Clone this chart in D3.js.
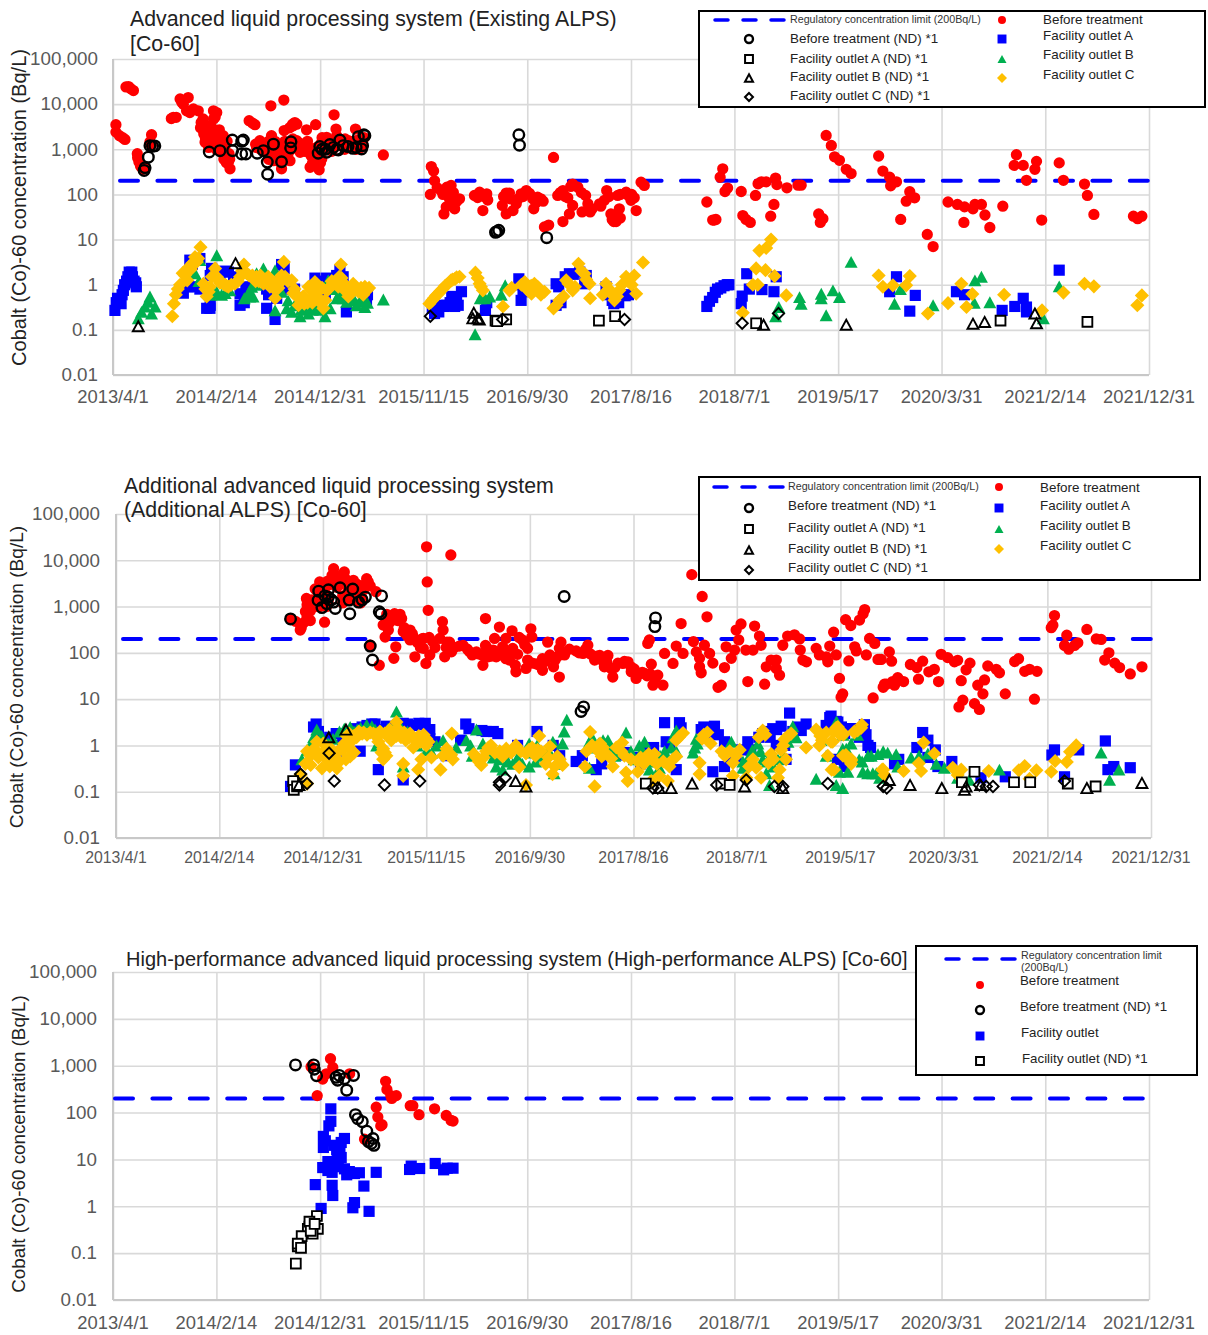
<!DOCTYPE html>
<html><head><meta charset="utf-8">
<script src="https://cdn.jsdelivr.net/npm/d3@7/dist/d3.min.js"></script>
<style>html,body{margin:0;padding:0;background:#fff}svg{display:block}text{font-family:"Liberation Sans",Arial,sans-serif}</style>
</head><body><svg id="c" width="1208" height="1335"></svg>
<script>
// Days since 2013/4/1 for each labelled tick
const tickDays=[0,319,639,958,1278,1598,1917,2237,2556,2876,3196];
const tickLabels=["2013/4/1","2014/2/14","2014/12/31","2015/11/15","2016/9/30","2017/8/16","2018/7/1","2019/5/17","2020/3/31","2021/2/14","2021/12/31"];
const yTicks=[0.01,0.1,1,10,100,1000,10000,100000];
const yTickLabels=["0.01","0.1","1","10","100","1,000","10,000","100,000"];
const limitValue=200;

// ---- Existing ALPS: [day, Bq/L]
const existingBefore=[[9,3500],[9,2400],[20,2000],[30,1800],[37,1650],[40,24000],[48,24500],[55,22000],[63,20000],[75,800],[76,650],[80,520],[85,420],[92,360],[97,400],[119,2100],[114,1450],[118,1250],
[186,5100],[195,5100],[180,4800],[207,13000],[232,14000],[217,10000],[212,11000],[227,7100],[237,6500],[248,7800],[263,7100],[272,3900],[278,4700],[310,7100],[315,5100],[320,6500],[310,4700],[285,2000],[270,3000],[280,2200],[285,1800],[290,1400],[300,2000],[295,1100],
[289,2000],[310,2370],[325,2180],[335,1550],[299,1310],[284,1430],[315,1200],[335,930],[346,725],[356,520],[361,370],[320,1690],[346,1200],
[300,1700],[305,1300],[312,1500],[318,1000],[325,1400],[330,1000],[340,1250],[345,900],[352,1500],[358,800],[340,2000],[328,2700],[300,2700],[292,3300],[305,3000],[360,600],[350,500],[342,600],
[487,9200],[527,12300],[420,4300],[438,3500],[430,3800],[528,2600],[561,3900],[554,3600],[597,2700],[625,3500],[682,5800],[688,2800],[748,2800],[834,750],
[453,1550],[443,1100],[489,2000],[505,1310],[484,790],[495,560],[520,370],[546,560],[525,930],[567,1550],[577,1100],[597,1310],[608,790],[577,860],[618,560],[608,400],[636,350],[628,1100],[644,610],[659,1840],[680,1550],[690,2000],[716,1690],[726,1550],[556,3300],[567,3600],[545,3000],[470,900],[500,700],[535,1200],[560,1300],[590,900],[650,1500],[670,1200],[700,1300],[735,1200],[760,1300],[765,1100],[470,1300],[515,1000],[540,800],
[440,1300],[455,1000],[462,1200],[475,1100],[480,1500],[490,900],[500,1500],[510,1100],[520,800],[530,1500],[540,1300],[550,1000],[555,1700],[565,1200],[572,1400],[585,1300],[590,1100],[600,1500],[605,1100],[612,700],[622,900],[630,800],[640,1300],[645,1800],[655,1100],[665,1400],[675,900],[685,1200],[695,1700],[705,1400],[715,1000],[725,1300],[740,1500],[750,1000],[755,1600],[770,1300],[775,1800],[640,500],[625,450],[615,480],[530,600],[510,550],[480,600],
[982,415],[989,330],[992,200],[979,100],[1012,122],[1043,158],[1023,112],[1038,80],[1069,80],[1054,48],[1021,37],[1028,53],[1115,95],[1131,112],[1153,103],[1141,44],[1156,75],[1213,107],[1223,107],[1201,57],[1213,37],[1234,44],[1259,103],[1275,122],[1244,62],[1295,80],[1298,48],[1310,87],[1327,71],[1359,660],[1344,21],[1331,19],[1372,95],[1388,122],[1403,84],[1418,170],[1434,145],[1458,95],[1465,62],[1418,57],[1408,37],[1388,25],[1447,41],[1472,41],[1501,62],[1516,74],[1523,122],[1557,95],[1583,112],[1608,84],[1598,74],[1614,44],[1629,187],[1639,158],[1562,48],[1536,37],[1540,28],[1552,25],[1565,30],[1545,25],[1555,33],
[1000,140],[1018,100],[1030,145],[1050,110],[1060,70],[1040,60],[1125,85],[1145,90],[1205,90],[1225,80],[1250,80],[1265,90],[1285,105],[1305,65],[1320,80],[1380,110],[1395,90],[1412,150],[1445,110],[1478,48],[1505,55],[1530,90],[1565,100],[1590,95],[1600,100],
[1832,68],[1850,27],[1855,27],[1860,28],[1881,370],[1873,240],[1896,138],[1888,116],[1938,116],[1943,34],[1953,28],[1966,24],[1982,95],[1990,172],[2000,190],[2015,190],[2044,230],[2048,165],[2079,140],[2113,160],[2123,160],[2039,60],[2029,33],[2177,37],[2190,29],[2182,24],[2200,2030],[2216,1220],[2226,680],[2241,570],[2262,360],[2277,290],[2362,710],[2375,330],[2396,240],[2417,190],[2399,155],[2458,115],[2473,84],[2447,71],[2430,28],[2512,13],[2530,7],[2576,68],[2605,60],[2627,53],[2653,48],[2659,60],[2679,60],[2690,35],[2625,24],[2705,18.5],[2745,55],[2865,27],[2787,760],[2780,440],[2808,440],[2849,540],[2844,360],[2818,205],[2919,500],[2932,205],[2997,170],[3006,95],[3026,36],[3148,33],[3161,29],[3174,33]];
const existingBeforeND=[[96,340],[99,390],[109,670],[114,1200],[122,1170],[129,1190],[297,870],[330,930],[368,1600],[402,1600],[397,1500],[369,930],[397,790],[410,790],[445,820],[464,930],[495,1300],[476,520],[477,280],[520,530],[549,1470],[548,1070],[633,820],[638,1150],[659,860],[669,1270],[700,1600],[695,970],[725,1150],[740,1050],[767,1020],[757,1900],[774,2100],[777,2000],[655,1000],[680,1100],[710,1200],[645,1000],[690,1000],[750,1100],[770,1200],[1252,2100],[1254,1230],[1184,15],[1180,14.5],[1190,16],[1338,11]];
const existingA=[[6,0.27],[10,0.4],[14,0.5],[20,0.43],[25,0.38],[28,0.6],[32,0.75],[36,1.0],[42,1.2],[46,1.5],[50,1.9],[58,1.9],[60,1.5],[65,1.2],[70,1.1],[72,0.9],[237,3.5],[268,3.8],[217,0.65],[232,0.9],[268,0.8],[289,0.3],[299,0.3],[304,2.3],[356,1.9],[392,0.35],[392,0.63],[410,0.9],[474,0.3],[500,0.17],[505,0.5],[528,2.3],[474,0.8],[623,1.4],[659,1.4],[700,2.1],[720,0.25],[782,0.42],[640,1.2],[680,1.3],
[245,2.8],[300,1.6],[300,0.35],[330,1.5],[345,2],[372,1.5],[405,0.4],[410,0.55],[480,0.6],[520,2.8],[535,0.8],[560,0.8],[640,0.9],[655,0.6],[690,1.6],[710,1.5],[725,0.8],[775,0.5],[785,0.6],[250,0.9],
[992,0.23],[1000,0.3],[1010,0.35],[1020,0.33],[1030,0.35],[1045,0.55],[1054,0.33],[1065,0.35],[1075,0.7],[985,0.3],[1005,0.25],[1040,0.4],[1060,0.45],[1149,0.27],[1153,0.4],[1252,1.35],[1259,0.45],[1255,1],[1265,0.7],[1367,1.05],[1367,0.35],[1382,0.4],[1375,0.9],[1395,1.5],[1420,1.7],[1440,1.9],[1408,1.75],[1460,1.6],[1455,1.05],[1521,0.9],[1530,0.6],[1560,0.4],[1590,0.6],[1540,0.45],[1545,0.38],[1580,0.57],
[1832,0.33],[1840,0.43],[1850,0.52],[1858,0.68],[1865,0.8],[1875,0.85],[1885,0.95],[1895,1.0],[1900,1.0],[1955,1.75],[1938,0.38],[1941,0.56],[1963,0.8],[2002,0.78],[2039,0.7],[2046,1.5],[2417,1.5],[2396,0.7],[2475,0.58],[2458,0.26],[2602,0.7],[2627,0.6],[2743,0.27],[2782,0.33],[2808,0.5],[2818,0.32],[2818,0.25],[2919,2.1]];
const existingB=[[78,0.18],[88,0.25],[99,0.33],[109,0.42],[114,0.55],[130,0.33],[119,0.23],[253,1.8],[268,3.5],[320,4.5],[320,0.7],[346,0.65],[422,0.55],[428,0.9],[443,1.8],[464,2.3],[500,2.1],[500,0.27],[536,0.3],[551,0.25],[577,0.2],[603,0.23],[628,0.33],[654,0.2],[664,1.25],[690,0.5],[721,0.42],[751,0.35],[777,0.32],[834,0.47],[590,0.3],[615,0.28],
[265,1.2],[300,0.6],[310,0.65],[335,0.6],[360,0.75],[405,0.5],[420,0.7],[432,0.55],[440,1],[455,1.4],[480,1.5],[510,1.5],[520,0.7],[540,0.45],[560,0.35],[580,0.28],[595,0.35],[610,0.3],[640,0.28],[670,0.3],[680,0.8],[700,0.65],[710,0.5],[730,0.5],[745,0.45],[760,0.42],[770,0.5],[785,0.4],
[1133,0.5],[1162,0.55],[1148,0.5],[1210,0.97],[1198,0.6],[1117,0.08],
[2429,0.8],[2411,0.38],[2530,0.35],[2277,3.2],[2185,0.63],[2185,0.5],[2200,0.21],[2221,0.75],[2241,0.53],[2118,0.53],[2123,0.38],[2054,0.32],[2044,0.2],[2659,1.25],[2679,1.5],[2657,0.4],[2705,0.41],[2919,0.92],[2870,0.18]];
const existingC=[[183,0.2],[188,0.38],[194,0.6],[207,1],[215,1.8],[229,1.25],[235,2.5],[253,4.1],[270,6.8],[263,3.8],[279,1.05],[289,0.55],[299,0.9],[315,2.3],[320,1.5],[340,1.05],[356,0.9],[376,1.05],[392,1.5],[404,2.8],[412,1.8],[443,1.5],[464,1.05],[479,1.5],[500,0.5],[484,0.9],[505,1.15],[527,3.2],[531,1.5],[551,1.25],[556,0.65],[572,0.35],[587,0.55],[603,0.9],[623,1.15],[618,0.55],[649,0.3],[659,0.75],[680,1.05],[703,2.8],[698,1.5],[720,0.9],[726,0.55],[741,1.05],[757,0.7],[777,0.9],[782,0.75],[450,1.2],[490,1.2],[515,1.1],[565,0.6],[580,0.45],[600,0.4],[635,0.5],[645,0.85],[670,0.9],[690,1.2],[710,1.1],
[200,0.8],[222,1.6],[240,2.2],[245,3],[258,3.2],[285,0.8],[295,0.7],[305,1.5],[325,1.3],[330,1.1],[345,1],[350,0.95],[365,1],[385,1.2],[398,2],[420,1.6],[430,1.6],[440,1.2],[455,1.6],[472,1.3],[495,0.85],[510,0.85],[520,1.6],[540,1.2],[560,0.8],[570,0.55],[578,0.45],[590,0.38],[610,0.75],[615,0.4],[630,0.75],[640,0.4],[655,0.45],[665,0.8],[675,1.2],[695,0.9],[705,1.4],[715,0.75],[735,0.65],[750,0.85],[765,0.85],[772,0.6],[790,0.85],
[976,0.38],[997,0.58],[1018,0.82],[1043,1.25],[1069,1.5],[985,0.45],[1005,0.65],[1030,1],[1055,1.35],[990,0.5],[1010,0.72],[1025,0.95],[1048,1.3],[1060,1.45],[1118,1.85],[1125,1.4],[1135,0.9],[1131,1.05],[1141,0.75],[1203,0.33],[1223,0.75],[1230,0.85],[1260,1],[1270,1.15],[1280,0.75],[1290,0.95],[1291,0.63],[1300,1.05],[1310,0.9],[1320,0.6],[1331,0.7],[1359,0.3],[1368,0.35],[1377,0.45],[1390,0.55],[1398,1.25],[1405,1.05],[1418,0.75],[1425,0.9],[1436,2.9],[1445,2],[1455,1.75],[1460,1.3],[1470,1.05],[1472,0.5],[1521,1.05],[1511,0.6],[1530,0.8],[1540,0.6],[1547,0.45],[1555,0.55],[1562,0.75],[1570,1],[1583,1.5],[1590,1.2],[1600,1],[1608,1.6],[1614,0.63],[1635,3.1],
[1943,0.24],[1984,2.3],[2013,2.1],[2041,1.55],[1974,1],[1989,1],[2077,0.58],[2030,10],[2015,6.5],[1994,5.7],[2362,1.6],[2375,0.9],[2406,0.97],[2458,1.55],[2447,0.97],[2576,0.39],[2514,0.23],[2617,1.05],[2651,0.62],[2633,0.32],[2749,0.6],[2866,0.27],[2932,0.67],[2997,1.05],[3026,0.92],[3174,0.58],[3160,0.35]];
const existingAND=[[1180,0.16],[1213,0.17],[1185,0.155],[1499,0.16],[1549,0.2],[1984,0.14],[2738,0.16],[3006,0.15]];
const existingBND=[[78,0.12],[378,3.0],[1113,0.24],[1110,0.18],[1125,0.18],[1130,0.17],[2007,0.13],[2262,0.13],[2653,0.137],[2689,0.15],[2844,0.23],[2849,0.14]];
const existingCND=[[979,0.2],[1202,0.17],[1578,0.17],[1941,0.14],[2053,0.23]];

// ---- Additional ALPS: [day, Bq/L]
const additionalBefore=[[539,550],[554,480],[569,310],[585,780],[588,1500],[600,500],[629,3400],[615,2400],[672,6600],[667,4700],[705,5600],[708,4000],[733,3700],[738,3200],[774,4000],[779,3400],[759,2800],[803,2100],[644,460],[682,2600],[723,1900],[723,1400],[692,3000],[640,1800],[655,1300],[700,1700],[760,1500],[745,2200],[600,900],[610,1100],
[572,350],[580,450],[590,600],[600,800],[590,1100],[605,1400],[615,1000],[625,1500],[630,2200],[640,2700],[645,2000],[652,3500],[660,3000],[670,3500],[680,3800],[690,4500],[700,3700],[712,3000],[718,2400],[728,2800],[745,3000],[752,2300],[765,2300],[770,3000],[785,2800],[630,1000],[650,1000],[700,1200],[735,1400],[755,1200],
[813,54],[785,146],[858,76],[864,135],[825,400],[836,680],[851,610],[877,680],[882,550],[831,220],[841,310],[887,290],[908,310],[918,220],[908,190],[949,205],[967,215],[1000,205],[1008,470],[1010,310],[959,19500],[1034,13000],[961,3400],[964,830],[923,82],[949,125],[969,90],[957,59],[1015,82],[1030,170],[1036,105],[1072,145],[1092,105],[1113,105],[1141,550],[1184,360],[1223,300],[1281,330],[1284,220],[1169,205],[1141,145],[1133,54],[1149,82],[1174,82],[1204,205],[1194,135],[1204,75],[1245,215],[1271,125],[1240,93],[1233,54],[1235,39],[1266,46],[1271,70],[1297,58],[1317,42],[1317,75],[1333,170],[1374,170],[1369,125],[1356,70],[1351,50],[1369,30],
[838,500],[845,450],[860,700],[870,500],[890,350],[895,260],[900,230],[915,260],[930,170],[940,130],[945,200],[978,175],[985,130],[1020,130],[1022,170],[1045,130],[1060,140],[1085,120],[1100,90],[1120,95],[1130,90],[1150,120],[1160,85],[1165,115],[1180,100],[1190,90],[1212,100],[1215,70],[1225,125],[1255,190],[1262,150],[1285,60],[1305,55],[1325,65],[1340,90],[1365,85],[1385,90],[1400,120],[1430,100],
[1421,110],[1442,97],[1457,146],[1478,70],[1494,88],[1519,88],[1508,50],[1529,46],[1534,30],[1565,59],[1581,64],[1591,39],[1606,28],[1632,36],[1653,57],[1658,20],[1673,33],[1689,20],[1647,190],[1642,160],[1694,97],[1720,59],[1730,140],[1751,97],[1745,430],[1778,4900],[1810,1650],[1825,600],[1783,175],[1817,146],[1792,105],[1833,97],[1802,76],[1802,50],[1807,37],[1843,60],[1859,18],[1869,20],[1884,135],[1910,115],[1915,310],[1930,420],[1923,190],[1945,115],[1900,76],[1879,48],[1951,24],[2003,21],[1972,380],[1987,230],[1992,146],[1967,115],[2008,50],[2023,70],[2039,70],[2039,46],[2049,33],[2059,146],[2074,230],[2095,245],[2111,200],[2113,115],[2121,70],[2132,64],[2162,125],[2172,90],[2193,82],[2198,64],[2204,140],[2216,280],[2224,90],[2234,28],[2244,13],[2239,11],[2253,520],[2269,390],[2263,67],[2281,135],[2286,110],[2296,510],[2307,700],[2312,860],[2317,90],[2327,205],[2343,160],[2353,72],[2363,72],[2338,10.6],[2369,18],[2379,21],
[1450,120],[1465,95],[1485,85],[1500,70],[1515,65],[1540,48],[1550,60],[1570,65],[1590,50],[1600,45],[1615,35],[1625,38],[1640,32],[1650,35],[1665,28],
[2358,72],[2388,105],[2395,66],[2373,21],[2398,24],[2404,20],[2414,29],[2432,24],[2453,56],[2473,48],[2491,66],[2478,27],[2510,39],[2527,44],[2540,24],[2548,93],[2568,79],[2589,64],[2599,69],[2637,60],[2625,43],[2610,25],[2682,26],[2661,20],[2677,13],[2615,9.5],[2603,6.8],[2651,8],[2666,6],[2692,52],[2718,44],[2728,37],[2746,13],[2775,65],[2787,75],[2806,40],[2821,44],[2844,40],[2836,10],[2898,640],[2893,395],[2888,350],[2936,240],[2929,145],[2942,120],[2960,145],[2970,165],[2998,320],[3027,200],[3042,195],[3066,100],[3053,70],[3084,60],[3099,48],[3132,35],[3168,50]];
const additionalBeforeND=[[539,540],[626,2150],[624,1370],[636,950],[656,2300],[656,1600],[651,1150],[677,910],[672,1250],[692,2550],[731,2400],[720,1380],[722,700],[749,1250],[770,1600],[820,1700],[813,770],[818,700],[785,140],[792,70],[1384,1650],[1436,5.4],[1444,6.8],[1666,570],[1664,370],[665,1400],[645,1700],[760,1400]];
const additionalA=[[618,2.9],[554,0.38],[539,0.13],[810,0.3],[887,0.18],[887,3],[949,2.8],[969,2.2],[969,1.4],[790,2.9],[738,2.3],[754,0.75],[1080,2.9],[1064,1.3],[1143,2],[1179,1.8],[820,2.2],[680,0.6],[700,1],[855,2.3],
[610,2.5],[625,2],[640,1.3],[660,1.5],[680,1.8],[700,1.6],[760,2.5],[775,2.7],[800,2.9],[835,2.6],[870,2.8],[900,2.9],[920,2.7],[935,3],[955,3],[985,1.2],[1020,0.6],[1090,2.3],[1130,2.1],[1165,2],[1200,0.7],[1240,1],[1300,2],[1370,0.6],[1350,1],
[1421,0.45],[1483,0.3],[1555,0.62],[1694,3.1],[1740,3.1],[1699,1.2],[1730,0.3],[1807,2.2],[1848,2.6],[1879,1.2],[1879,0.35],[1843,0.27],[1951,1.2],[1930,0.8],[1997,1.8],[2028,2.3],[2054,2.6],[2039,1],[2069,0.5],[2080,5],[2116,2.1],[2131,2.9],[2204,4],[2193,2.7],[2224,3.3],[2260,2.3],[2306,1.9],[2322,1],[2228,0.5],[1620,0.4],
[1440,0.6],[1500,0.4],[1575,0.7],[1600,0.55],[1640,0.8],[1660,0.9],[1670,0.45],[1710,0.9],[1745,2.4],[1815,2.5],[1830,1.8],[1860,1.7],[1900,0.55],[1915,0.5],[1960,0.8],[1985,1.5],[2010,2],[2020,1.5],[2040,2.2],[2065,1],[2090,2],[2105,2.5],[2215,2.8],[2240,2.5],[2250,1.8],[2285,2.3],[2295,1.5],
[2208,4.3],[2229,3.2],[2270,2.3],[2311,2.8],[2316,1.7],[2330,0.9],[2249,0.35],[2404,0.4],[2417,0.5],[2491,1.9],[2507,1.3],[2473,0.9],[2530,0.8],[2507,0.55],[2538,0.35],[2581,0.45],[2671,0.2],[2746,0.21],[2898,0.8],[2890,0.62],[2973,0.8],[2929,0.21],[3055,1.25],[3063,0.3],[3081,0.35],[3132,0.33]];
const additionalB=[[574,0.5],[590,0.8],[620,2.2],[655,1.1],[723,2.5],[774,2.8],[866,5.4],[871,2.6],[805,1],[887,0.35],[1010,1.3],[1082,1.3],[1113,2.2],[1133,1.1],[1174,0.35],[1194,0.3],[1225,0.4],[1276,1.1],[1276,0.35],[1349,1.2],[1379,1.1],[1392,3.6],[1384,2],[1210,0.45],[1300,1],[1296,0.45],[1353,0.25],[690,2],[745,2.2],[800,2.2],[840,2.3],[900,2],[930,1],[960,0.8],
[600,1],[610,1.5],[635,1.6],[650,0.9],[670,1.4],[705,2.3],[735,2],[755,2.4],[790,2.6],[820,2],[855,2.4],[880,2.4],[910,1.7],[940,1.5],[975,0.7],[990,1],[1050,0.9],[1095,1],[1100,0.6],[1150,0.7],[1165,0.55],[1185,0.5],[1240,0.55],[1255,0.4],[1290,0.7],[1315,0.6],[1335,0.8],[1365,0.4],
[1462,1.2],[1504,1.3],[1519,1.3],[1575,1.9],[1462,0.33],[1616,1],[1632,1.2],[1647,0.3],[1694,0.75],[1730,2.1],[1730,0.75],[1678,0.33],[1787,0.9],[1782,0.7],[1792,1.4],[1900,1.2],[1936,0.33],[1982,1.1],[1997,0.5],[1936,0.45],[2018,0.14],[2044,0.5],[2090,2.6],[2008,0.25],[2224,3.2],[2177,1.3],[2193,0.6],[2162,0.19],[2224,0.14],[2234,0.27],[2255,0.85],[2245,1.7],[2295,0.5],[2322,0.6],[2306,0.27],[2369,0.75],[2348,0.25],
[1470,1.5],[1480,0.9],[1490,1.1],[1510,1.1],[1525,0.8],[1540,0.6],[1550,0.7],[1590,0.75],[1600,0.5],[1625,0.8],[1640,0.55],[1660,0.45],[1680,0.6],[1700,0.5],[1715,0.9],[1720,1.5],[1795,1.1],[1810,1.5],[1950,0.5],[1965,0.8],[1990,0.75],[2010,0.45],[2030,0.35],[2060,0.6],[2075,1.2],[2100,1.5],
[2226,3.2],[2290,1.7],[2270,1.1],[2244,0.85],[2260,0.27],[2244,0.12],[2304,0.45],[2321,0.25],[2337,0.25],[2332,0.6],[2353,0.65],[2383,0.7],[2409,0.65],[2414,0.35],[2358,0.2],[2455,0.55],[2507,0.67],[2480,0.6],[2533,0.4],[2558,0.33],[2599,0.2],[2635,0.18],[2728,0.3],[3042,0.7],[3068,0.18],[3097,0.3]];
const additionalC=[[570,0.23],[590,0.15],[601,0.38],[590,0.75],[620,1.2],[636,0.32],[682,0.32],[661,0.58],[723,0.58],[713,1.6],[743,1.5],[795,1.8],[825,0.85],[825,0.5],[866,3.2],[866,1.6],[908,1.8],[918,0.9],[958,1.4],[958,1],[887,0.4],[887,0.22],[933,0.3],[943,0.5],[974,0.55],[1002,0.3],[1021,0.85],[1035,0.63],[1037,1.8],[1113,0.55],[1128,0.38],[1143,0.75],[1158,1],[1194,0.58],[1235,1],[1245,0.34],[1266,0.67],[1302,0.8],[1307,1.6],[1327,0.4],[1348,0.24],[1363,0.58],[1379,0.38],[1266,0.14],[600,0.6],[640,0.7],[660,0.35],[690,0.45],[700,0.8],[730,1.3],[760,1.8],[775,1.7],[810,1.6],[840,1.8],[850,1.3],[880,1.5],[895,1.3],[935,1.6],[830,0.7],
[720,1.8],[735,1.6],[750,2],[765,1.9],[785,1.9],[800,1.7],[815,2],[830,1.8],[845,2.2],[860,2],[875,2.1],[890,1.9],[905,1.5],[925,1.3],[940,1.2],[950,1.7],[965,1.2],[810,1.2],[820,0.7],[835,0.6],[660,0.9],[675,0.65],[690,0.8],[705,1.1],[720,0.9],[735,0.7],[710,0.5],[650,0.5],[625,0.55],[612,0.85],[585,0.4],[640,1.1],[675,0.4],
[1040,0.5],[1010,0.6],[1025,0.65],[1105,0.65],[1120,0.45],[1135,0.55],[1150,0.9],[1170,0.7],[1185,0.75],[1205,0.85],[1220,0.7],[1250,0.75],[1275,0.8],[1285,0.9],[1295,0.6],[1312,0.75],[1335,0.55],[1355,0.35],[1370,0.5],[1340,0.95],
[1464,1.95],[1453,0.75],[1448,0.35],[1504,0.9],[1500,0.58],[1529,0.52],[1534,0.35],[1478,0.13],[1563,1.15],[1560,0.75],[1575,0.26],[1580,0.17],[1611,0.45],[1611,0.27],[1637,0.55],[1663,0.65],[1653,0.17],[1678,0.22],[1704,0.17],[1709,0.35],[1730,0.58],[1730,1.3],[1751,1.85],[1802,0.42],[1802,0.24],[1826,1.9],[1836,1.1],[1870,0.75],[1895,0.75],[1905,0.42],[1926,0.8],[1905,0.22],[1946,0.2],[1967,0.5],[1977,0.33],[1997,2.1],[1992,0.2],[2023,0.65],[2015,0.42],[2054,0.8],[2069,0.5],[2049,0.3],[2044,0.2],[2064,1.35],[2085,1.8],[2131,0.9],[2162,2.2],[2193,1.9],[2208,1.2],[2172,1],[2198,0.6],[2210,0.3],[2224,2.4],[2245,1.85],[2301,2.4],[2280,1.9],[2245,0.6],[2270,0.5],[2369,0.3],
[1470,1],[1485,0.8],[1495,1.1],[1510,0.7],[1545,0.9],[1570,0.6],[1590,0.5],[1620,0.55],[1630,0.4],[1645,0.65],[1655,0.5],[1670,0.4],[1690,0.45],[1720,0.5],[1738,1.5],[1810,1.4],[1815,1.7],[1880,0.6],[1915,0.6],[1955,0.35],[1985,1.5],[2005,1.7],[2030,0.5],[2060,1],[2075,1.6],[2175,1.6],[2180,1.3],[2215,2],[2235,1.7],[2255,0.55],[2262,0.5],[2290,2.1],
[2229,2.5],[2246,1.7],[2280,2],[2303,2.8],[2213,1.2],[2254,0.62],[2270,0.47],[2270,0.4],[2217,0.3],[2366,0.3],[2373,0.23],[2432,0.28],[2479,0.41],[2486,0.28],[2494,1.15],[2527,0.67],[2584,0.33],[2610,0.3],[2599,0.23],[2695,0.28],[2788,0.29],[2806,0.36],[2821,0.19],[2842,0.29],[2888,0.27],[2900,0.46],[2936,0.44],[2946,0.73],[2965,1]];
const additionalAND=[[547,0.17],[549,0.11],[559,0.13],[1636,0.15],[1869,0.15],[1895,0.14],[2651,0.27],[2612,0.16],[2773,0.16],[2823,0.16],[2939,0.15],[3025,0.13]];
const additionalBND=[[657,1.5],[710,2.2],[1234,0.17],[1266,0.13],[565,0.14],[1677,0.12],[1714,0.12],[1779,0.15],[1941,0.13],[2059,0.12],[2388,0.18],[2452,0.14],[2550,0.12],[2620,0.11],[2625,0.13],[2670,0.14],[2998,0.12],[3168,0.155]];
const additionalCND=[[570,0.24],[590,0.15],[658,0.68],[674,0.17],[829,0.14],[938,0.17],[1184,0.16],[1184,0.14],[1202,0.2],[1658,0.12],[1673,0.12],[1855,0.14],[1946,0.18],[2033,0.13],[2059,0.13],[2198,0.15],[2369,0.13],[2380,0.12],[2666,0.14],[2687,0.13],[2708,0.13],[2929,0.17]];

// ---- High-performance ALPS: [day, Bq/L]
const highBefore=[[671,1410],[678,920],[658,670],[647,520],[611,950],[630,230],[730,670],[841,465],[845,310],[874,230],[857,230],[860,200],[812,130],[817,80],[830,55],[826,52],[776,27],[917,140],[925,140],[944,90],[992,120],[1028,87],[1043,68],[1049,66]];
const highBeforeND=[[563,1040],[619,1040],[621,840],[628,610],[688,565],[698,620],[693,490],[714,530],[742,620],[721,300],[748,90],[755,74],[769,64],[783,40],[788,24],[802,28],[805,20],[797,22]];
const highOutlet=[[672,120],[672,65],[666,52],[649,31],[649,18],[683,20],[714,28],[704,23],[693,14],[704,11],[663,9],[647,6.7],[663,5.8],[676,5.3],[714,6.3],[729,5.5],[721,4.7],[745,5],[760,5.2],[812,5.3],[624,2.9],[676,2.8],[678,1.7],[774,2.7],[745,1.2],[740,0.93],[790,0.78],[642,0.9],[920,7.2],[915,6.1],[946,6.4],[994,8.2],[1020,6],[1049,6.5],[1031,6.5],[655,25],[690,16],[700,18],[680,9],[695,7]];
const highOutletND=[[629,0.62],[632,0.33],[606,0.37],[601,0.33],[616,0.26],[582,0.23],[570,0.14],[570,0.16],[580,0.13],[564,0.06],[606,0.47],[610,0.3],[622,0.42]];

// ---- Legend and title text
const legendLimit="Regulatory concentration limit (200Bq/L)";
const titleExisting=["Advanced liquid processing system (Existing ALPS)","[Co-60]"];
const titleAdditional=["Additional advanced liquid processing system","(Additional ALPS) [Co-60]"];
const titleHigh=["High-performance advanced liquid processing system (High-performance ALPS) [Co-60]"];
const yTitle="Cobalt (Co)-60 concentration (Bq/L)";

const svg=d3.select("#c");
const diamond={draw(c,s){const r=Math.sqrt(s);c.moveTo(0,-r);c.lineTo(r,0);c.lineTo(0,r);c.lineTo(-r,0);c.closePath();}};
const triangle={draw(c,s){const r=Math.sqrt(s);c.moveTo(0,-r*0.92);c.lineTo(r,r*0.92);c.lineTo(-r,r*0.92);c.closePath();}};
const mk={
 red:{t:d3.symbolCircle,s:100,fill:"#ff0000"},
 blue:{t:d3.symbolSquare,s:125,fill:"#0000ff"},
 green:{t:triangle,s:42,fill:"#00b050"},
 gold:{t:diamond,s:50,fill:"#ffc000"},
 circ:{t:d3.symbolCircle,s:88,fill:"none",stroke:"#000",sw:2.4},
 sq:{t:d3.symbolSquare,s:96,fill:"#fff",stroke:"#000",sw:1.9},
 tri:{t:triangle,s:30,fill:"none",stroke:"#000",sw:1.9},
 dia:{t:diamond,s:32,fill:"none",stroke:"#000",sw:1.9}
};
const lg={
 red:{...mk.red,s:50},blue:{...mk.blue,s:80},green:{...mk.green,s:20},gold:{...mk.gold,s:25},
 circ:{...mk.circ,s:50,sw:2.4},sq:{...mk.sq,s:62,sw:2},tri:{...mk.tri,s:16,sw:2},dia:{...mk.dia,s:16,sw:2}
};
function sym(g,m){
 return g.attr("d",d3.symbol().type(m.t).size(m.s)).attr("fill",m.fill)
  .attr("stroke",m.stroke||"none").attr("stroke-width",m.sw||0);
}
function panel(o){
 const x=d3.scaleLinear().domain([0,3196]).range(o.xr);
 const y=d3.scaleLog().domain([0.01,100000]).range(o.yr);
 const g=svg.append("g");
 const ax=g.append("g").attr("transform",`translate(0,${o.yr[0]})`)
  .call(d3.axisBottom(x).tickValues(tickDays).tickSize(o.yr[1]-o.yr[0]).tickPadding(0).tickFormat((d,i)=>tickLabels[i]));
 const ay=g.append("g").attr("transform",`translate(${o.xr[0]},0)`)
  .call(d3.axisLeft(y).tickValues(yTicks).tickSize(o.xr[0]-o.xr[1]).tickFormat((d,i)=>yTickLabels[i]));
 [ax,ay].forEach(a=>{a.select(".domain").remove();a.selectAll("line").attr("stroke","#d9d9d9").attr("stroke-width",1.6);});
 ax.selectAll("text").attr("font-size",o.xfs).attr("fill","#595959").attr("dy",null).attr("dx",-0.5)
   .attr("y",o.xly-o.yr[0]).attr("dominant-baseline","central");
 ay.selectAll("text").attr("font-size",18.8).attr("fill","#595959").attr("dy",-0.7)
   .attr("x",o.ylx-o.xr[0]).attr("dominant-baseline","central");
 g.append("line").attr("x1",o.xr[0]).attr("x2",o.xr[0]).attr("y1",o.yr[0]).attr("y2",o.yr[1]).attr("stroke","#c8c8c8").attr("stroke-width",2);
 g.append("line").attr("x1",o.xr[0]).attr("x2",o.xr[1]).attr("y1",o.yr[0]).attr("y2",o.yr[0]).attr("stroke","#c8c8c8").attr("stroke-width",2);
 g.append("line").attr("x1",o.limX[0]).attr("x2",o.limX[1]).attr("y1",y(limitValue)).attr("y2",y(limitValue))
  .attr("stroke","#0000ff").attr("stroke-width",4).attr("stroke-linecap","round").attr("stroke-dasharray","18 19.4");
 o.series.forEach(([data,m])=>{
  g.append("g").selectAll("path").data(data).join("path")
   .attr("transform",d=>`translate(${x(d[0])},${y(d[1])})`)
   .call(sym,m);
 });
 o.title.forEach((t,i)=>g.append("text").attr("x",o.tx).attr("y",o.ty+i*o.tdy).attr("font-size",o.tfs).attr("fill","#222").text(t));
 g.append("text").attr("transform",`translate(${o.ytx},${o.yty}) rotate(-90)`).attr("text-anchor","middle")
  .attr("dominant-baseline","central").attr("font-size",o.ytfs).attr("fill","#222").text(yTitle);
 const L=o.legend,lgG=g.append("g");
 lgG.append("rect").attr("x",L.box[0]).attr("y",L.box[1]).attr("width",L.box[2]-L.box[0]).attr("height",L.box[3]-L.box[1])
  .attr("fill","#fff").attr("stroke","#000").attr("stroke-width",2);
 lgG.append("line").attr("x1",L.line[0]).attr("x2",L.line[1]).attr("y1",L.line[2]).attr("y2",L.line[2])
  .attr("stroke","#0000ff").attr("stroke-width",3.5).attr("stroke-linecap","round").attr("stroke-dasharray","13 15");
 L.limText.forEach(([t,tx,ty])=>lgG.append("text").attr("x",tx).attr("y",ty).attr("font-size",L.limFs).attr("fill","#333").attr("dominant-baseline","central").text(t));
 L.items.forEach(([k,sx,sy,t,tx,ty])=>{
  lgG.append("path").attr("transform",`translate(${sx},${sy})`).call(sym,lg[k]);
  lgG.append("text").attr("x",tx).attr("y",ty).attr("font-size",L.fs).attr("fill","#222").attr("dominant-baseline","central").text(t);
 });
}
panel({xr:[113,1149],yr:[375,59],xfs:18.4,xly:396,ylx:98,limX:[120,1149],tx:130,ty:26,tdy:25,tfs:21.3,title:titleExisting,ytx:19,yty:207.5,ytfs:20,
 series:[[existingBefore,mk.red],[existingBeforeND,mk.circ],[existingA,mk.blue],[existingB,mk.green],[existingC,mk.gold],[existingAND,mk.sq],[existingBND,mk.tri],[existingCND,mk.dia]],
 legend:{box:[699,11,1205,107],line:[715,785,20],limFs:10.7,limText:[[legendLimit,790,18.5]],fs:13.4,items:[
  ["circ",749,39,"Before treatment (ND) *1",790,38],["sq",749,59,"Facility outlet A (ND) *1",790,58],["tri",749,78,"Facility outlet B (ND) *1",790,76],["dia",749,97,"Facility outlet C (ND) *1",790,95],
  ["red",1002,20,"Before treatment",1043,19],["blue",1002,39,"Facility outlet A",1043,35],["green",1002,59,"Facility outlet B",1043,54],["gold",1002,78,"Facility outlet C",1043,74]]}});
panel({xr:[116,1151],yr:[838,514],xfs:15.8,xly:857,ylx:100,limX:[123,1153],tx:124,ty:493,tdy:24,tfs:21.3,title:titleAdditional,ytx:16,yty:677,ytfs:19.1,
 series:[[additionalBefore,mk.red],[additionalBeforeND,mk.circ],[additionalA,mk.blue],[additionalB,mk.green],[additionalC,mk.gold],[additionalAND,mk.sq],[additionalBND,mk.tri],[additionalCND,mk.dia]],
 legend:{box:[699,477,1200,580],line:[714,785,487],limFs:10.7,limText:[[legendLimit,788,486]],fs:13.4,items:[
  ["circ",749,508,"Before treatment (ND) *1",788,505],["sq",749,529,"Facility outlet A (ND) *1",788,527],["tri",749,550,"Facility outlet B (ND) *1",788,548],["dia",749,570,"Facility outlet C (ND) *1",788,567],
  ["red",999,487,"Before treatment",1040,487],["blue",999,508,"Facility outlet A",1040,505],["green",999,529,"Facility outlet B",1040,525],["gold",999,549,"Facility outlet C",1040,545]]}});
panel({xr:[113,1149],yr:[1300,972],xfs:18.4,xly:1322,ylx:97,limX:[115,1149],tx:126,ty:966,tdy:24,tfs:20,title:titleHigh,ytx:18,yty:1144,ytfs:18.8,
 series:[[highBefore,mk.red],[highOutlet,mk.blue],[highOutletND,mk.sq],[highBeforeND,mk.circ]],
 legend:{box:[916,946,1197,1075],line:[946,1017,959],limFs:10.7,limText:[["Regulatory concentration limit",1021,955],["(200Bq/L)",1021,967]],fs:13.3,items:[
  ["red",980,985,"Before treatment",1020,980],["circ",980,1010,"Before treatment (ND) *1",1020,1006],["blue",980,1036,"Facility outlet",1021,1032],["sq",980,1061,"Facility outlet (ND) *1",1022,1058]]}});
</script></body></html>
